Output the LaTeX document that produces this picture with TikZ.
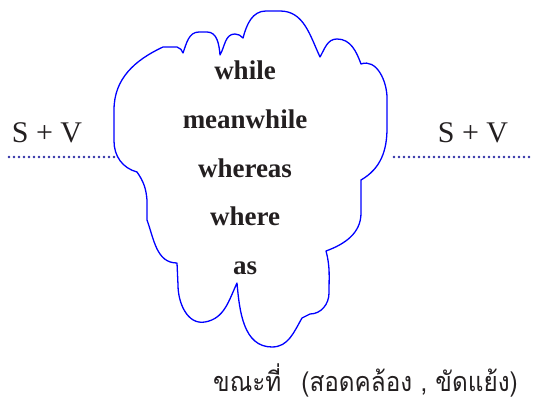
\documentclass[tikz,border=0pt]{standalone}
\usepackage{fontspec}
\setmainfont{Liberation Serif}
\newfontfamily\thaifont[Script=Thai, FakeStretch=0.9]{Loma}
\usetikzlibrary{positioning}
\definecolor{cloudblue}{HTML}{0000FF}
\definecolor{dotnavy}{HTML}{2E2EA6}
\definecolor{inkgray}{HTML}{231F20}

\begin{document}
\begin{tikzpicture}[
    x=1pt, y=1pt,
    cloud/.style={draw=cloudblue, line width=1.3pt, line join=round},
    dotline/.style={draw=dotnavy, line width=2.6pt, line cap=round, dash pattern=on 0pt off 5pt},
    sv/.style={text=inkgray, anchor=base, inner sep=0pt, font=\fontsize{30}{34}\selectfont},
    words/.style={text=inkgray, align=center, inner sep=0pt, font=\bfseries\fontsize{27}{48.7}\selectfont},
    thai/.style={text=inkgray, anchor=base west, inner sep=0pt, font=\thaifont\fontsize{27}{32}\selectfont}
]
\useasboundingbox (0,0) rectangle (534,403);

% cusps of the cloud
\coordinate (A) at (137,231);
\coordinate (B) at (183,350);
\coordinate (C) at (220,348);
\coordinate (D) at (243,365);
\coordinate (E) at (320,346);
\coordinate (F) at (361,339);
\coordinate (G) at (361,223);
\coordinate (H) at (326,152);
\coordinate (I) at (237,120);
\coordinate (J) at (177,140);

\draw[cloud] (A) to[out=165,in=-90] (114,262) -- (114,293) to[out=90,in=205] (163,356)
    -- (177,356) to[out=-25,in=100] (B)
    to[out=70,in=180] (199,371) -- (207,371) to[out=0,in=95] (C)
    to[out=60,in=180] (235,369) to[out=0,in=135] (D)
    to[out=75,in=180] (266,392) -- (280,392) to[out=0,in=115] (E)
    to[out=60,in=180] (337,364) to[out=0,in=110] (F)
    to[out=20,in=90] (387,305) -- (387,275) to[out=-90,in=30] (G)
    -- (361,190) to[out=-90,in=20] (H)
    to[out=-75,in=90] (329,110) to[out=-90,in=0] (310,89) -- (302,85)
    to[out=-120,in=0] (272,56) to[out=180,in=-85] (I)
    to[out=-115,in=10] (205,81) to[out=190,in=-90] (178,118) -- (J)
    to[out=180,in=-70] (147,183) -- (147,203) to[out=95,in=-55] (A) -- cycle;

% ends of the dotted lines
\coordinate (lend) at (9,246);
\coordinate (ljoin) at (115,246);
\coordinate (rjoin) at (394,246);
\coordinate (rend) at (532,246);

\node[sv] (lhs) at (47,260) {S + V};
\node[sv] (rhs) at (473,260) {S + V};
\node[words] (conj) at (245,235) {while\\meanwhile\\whereas\\where\\as};
\node[thai] (meaning) at (213,11) {ขณะที่\hspace{20pt}(สอดคล้อง , ขัดแย้ง)};

\draw[dotline] (lend) -- (ljoin);
\draw[dotline] (rjoin) -- (rend);
\end{tikzpicture}
\end{document}
